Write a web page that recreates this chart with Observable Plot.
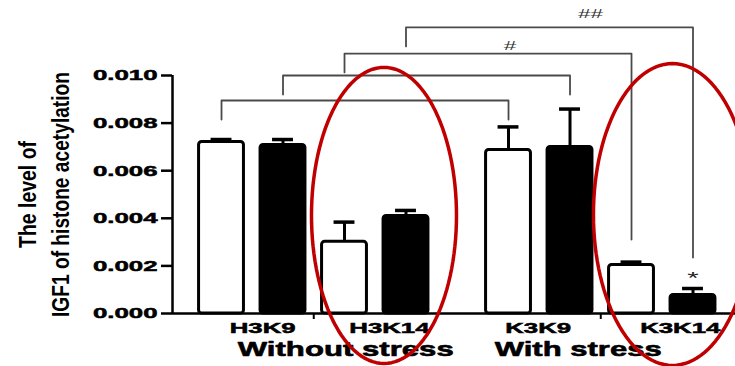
<!DOCTYPE html>
<html><head><meta charset="utf-8">
<script src="https://cdn.jsdelivr.net/npm/d3@7"></script>
<script src="https://cdn.jsdelivr.net/npm/@observablehq/plot@0.6"></script>
<style>body{margin:0;background:#fff;} #chart{width:735px;height:366px;overflow:hidden}</style>
</head><body><div id="chart"></div>
<script>
// ---- data ----
const groupLabels = ["Without stress", "With stress"];
const siteLabels = ["H3K9", "H3K14", "K3K9", "K3K14"];
const seriesNames = ["open", "filled"];
const openValues   = [0.00721, 0.00301, 0.00687, 0.00204];
const openErrors   = [0.00010, 0.00083, 0.00097, 0.00012];
const filledValues = [0.00708, 0.00410, 0.00700, 0.00078];
const filledErrors = [0.00023, 0.00023, 0.00159, 0.00027];
const yTicks = [0, 0.002, 0.004, 0.006, 0.008, 0.010];
const comparisons = [
  {from: 0, to: 4, label: ""},
  {from: 1, to: 5, label: ""},
  {from: 2, to: 6, label: "#"},
  {from: 3, to: 7, label: "##"}
];
const starred = [{bar: 7, label: "*"}];
const titleLines = ["The level of", "IGF1 of histone acetylation"];

// ---- layout ----
const xMin = -0.797, xMax = 8.358;
const groupGap = 0.667;
const pos = b => b + (b >= 4 ? groupGap : 0);
const barHalf = 0.365, capHalf = 0.17;

const bars = [];
siteLabels.forEach((site, s) => {
  seriesNames.forEach((ser, k) => {
    const b = s * 2 + k;
    const v = k === 0 ? openValues[s] : filledValues[s];
    const e = k === 0 ? openErrors[s] : filledErrors[s];
    bars.push({bar: b, site, series: ser, value: v, top: v + e, x: pos(b)});
  });
});

// bracket geometry (annotation layout)
const bracketLevels = [0.00895, 0.0100, 0.01092, 0.01202];
const bracketLeftEnd = [0.00815, 0.0092, 0.01013, 0.01122];
const bracketRightEnd = [0.00815, 0.0092, 0.00311, 0.00235];
const bracketLabelX = [null, null, 4.69, 6.0];
const bracketLabelY = [null, null, 0.01125, 0.01258];
const bracketPts = [];
comparisons.forEach((c, i) => {
  const xl = pos(c.from), xr = pos(c.to);
  bracketPts.push({k: i, x: xl, y: bracketLeftEnd[i]}, {k: i, x: xl, y: bracketLevels[i]},
                  {k: i, x: xr, y: bracketLevels[i]}, {k: i, x: xr, y: bracketRightEnd[i]});
});
const bracketText = comparisons.map((c, i) => ({label: c.label, x: bracketLabelX[i], y: bracketLabelY[i]})).filter(d => d.label);

const siteLabelX = [0.67, 2.73, 5.15, 7.46];
const groupLabelX = [2.02, 5.8];

const ellipses = [
  {cx: 2.642, cy: 0.00412, rx: 1.179, ry: 0.00622},
  {cx: 7.333, cy: 0.00416, rx: 1.285, ry: 0.00634}
];
const ellPts = [];
ellipses.forEach((e, i) => {
  for (let a = 0; a <= 360; a += 3) {
    const t = a * Math.PI / 180;
    ellPts.push({k: i, x: e.cx + e.rx * Math.cos(t), y: e.cy + e.ry * Math.sin(t)});
  }
});

const titleFont = "'Liberation Sans Narrow', 'Liberation Sans', sans-serif";

const chart = Plot.plot({
  width: 735, height: 366,
  marginLeft: 172, marginRight: 0, marginTop: 75, marginBottom: 53,
  style: {fontFamily: "'Liberation Sans', Arial, sans-serif", background: "white", color: "black"},
  x: {domain: [xMin, xMax]},
  y: {domain: [0, 0.010]},
  marks: [
    Plot.axisY({ticks: yTicks, tickFormat: d3.format(".3f"), tickSize: 11, tickPadding: 4,
                fontSize: 15, fontWeight: "bold", strokeWidth: 2.5, label: null}),
    Plot.axisX([pos(1) + 0.5, pos(5) + 0.5], {tickSize: 6, tickFormat: () => "", strokeWidth: 2, label: null}),
    Plot.ruleX([xMin], {y1: 0, y2: 0.010, strokeWidth: 2.5}),
    // error bars
    Plot.ruleX(bars, {x: "x", y1: "value", y2: "top", strokeWidth: 3}),
    Plot.ruleY(bars, {y: "top", x1: d => d.x - capHalf, x2: d => d.x + capHalf, strokeWidth: 3.5}),
    // bars
    Plot.rectY(bars, {x1: d => d.x - barHalf, x2: d => d.x + barHalf, y: "value",
      fill: d => d.series === "open" ? "white" : "black", stroke: "black", strokeWidth: 3, rx: 3}),
    Plot.ruleY([0], {x1: xMin, x2: xMax, strokeWidth: 2.5}),
    // brackets
    Plot.line(bracketPts, {x: "x", y: "y", z: "k", stroke: "#4a4a4a", strokeWidth: 1.8}),
    Plot.text(bracketText, {x: "x", y: "y", text: "label", fontSize: 13, fill: "#333"}),
    Plot.text(starred, {x: d => pos(d.bar), y: 0.00164, text: "label", fontSize: 17, dy: 4, fill: "#222"}),
    // category labels
    Plot.text(siteLabels, {x: (d, i) => siteLabelX[i], y: 0, dy: 15, text: d => d, fontSize: 15, fontWeight: "bold", fill: "black"}),
    Plot.text(groupLabels, {x: (d, i) => groupLabelX[i], y: 0, dy: 36, text: d => d, fontSize: 21, fontWeight: "bold",
      fill: "black", stroke: "black", strokeWidth: 0.6}),
    // y title
    Plot.text([titleLines[0]], {frameAnchor: "left", textAnchor: "middle", dx: -144, rotate: -90, text: d => d,
      fontSize: 24, fontWeight: "bold", fill: "black", fontFamily: titleFont}),
    Plot.text([titleLines[1]], {frameAnchor: "left", textAnchor: "middle", dx: -111, rotate: -90, text: d => d,
      fontSize: 24, fontWeight: "bold", fill: "black", fontFamily: titleFont}),
    // red ellipses
    Plot.line(ellPts, {x: "x", y: "y", z: "k", stroke: "#c00000", strokeWidth: 3.5})
  ]
});
document.getElementById("chart").append(chart);

// horizontally stretch texts to match the reference's wide lettering, anchoring manually
const fixedLen = {"Without stress": 216, "With stress": 167, "The level of": 107, "IGF1 of histone acetylation": 245};
const heavy = new Set([...siteLabels]);
chart.querySelectorAll("text").forEach(t => {
  const txt = t.textContent;
  if (!txt) return;
  const L0 = t.getComputedTextLength();
  const L = fixedLen[txt] ?? L0 * 1.72;
  const anchor = getComputedStyle(t).textAnchor;
  const x0 = parseFloat(t.getAttribute("x")) || 0;
  const shift = anchor === "middle" ? L / 2 : anchor === "end" ? L : 0;
  t.setAttribute("text-anchor", "start");
  t.style.textAnchor = "start";
  t.setAttribute("x", x0 - shift);
  t.setAttribute("textLength", L);
  t.setAttribute("lengthAdjust", "spacingAndGlyphs");
  if (heavy.has(txt) || /^0\.0\d\d$/.test(txt)) {
    t.setAttribute("stroke", "black");
    t.setAttribute("stroke-width", "0.5");
  }
});
</script></body></html>
